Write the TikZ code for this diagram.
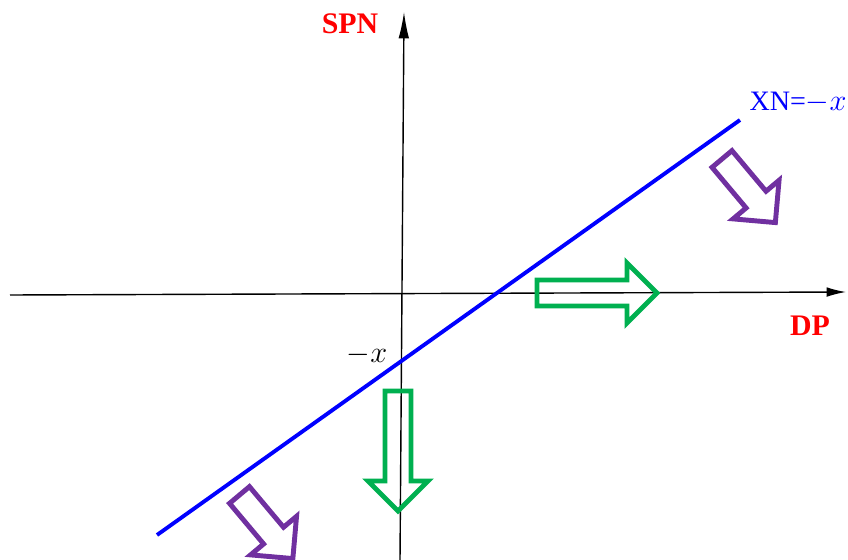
\documentclass[tikz,border=0pt]{standalone}
\usepackage{fontspec}
\setmainfont{Liberation Serif}
\usetikzlibrary{arrows.meta}

\definecolor{arrowgreen}{RGB}{0,176,80}
\definecolor{arrowpurple}{RGB}{112,48,160}

\tikzset{
    axis/.style={line width=0.8pt},
    axislabel/.style={text=red, font=\fontsize{17}{20}\selectfont\bfseries},
    hollow/.style={line width=2.8pt, line join=miter}
}

% colour, x, y, angle, length
\newcommand{\hollowarrow}[5]{%
    \draw[hollow, #1, shift={(#2,#3)}, rotate=#4]
        (0,-13) -- (#5-30,-13) -- (#5-30,-30) -- (#5,0)
        -- (#5-30,30) -- (#5-30,13) -- (0,13) -- cycle;}

\begin{document}
\begin{tikzpicture}[x=0.02cm, y=-0.02cm]
    \useasboundingbox (0,0) rectangle (848,560);

    \coordinate (W) at (10,295);
    \coordinate (E) at (846,292);
    \coordinate (S) at (400,560);
    \coordinate (N) at (404,12);
    \coordinate (P) at (157,535);
    \coordinate (Q) at (740,120);

    \draw[axis, -{Latex[length=11pt,width=5.5pt]}] (W) -- (E);
    \draw[axis, -{Latex[length=15pt,width=6pt]}] (S) -- (N);

    \draw[blue, line width=2.2pt] (P) -- (Q);

    \node[axislabel] (spn) at (350,24) {SPN};
    \node[axislabel] (dp) at (810,326) {DP};
    \node[text=blue, font=\fontsize{16}{19}\selectfont] (xn) at (798,103) {XN=$-x$};
    \node[font=\fontsize{16}{19}\selectfont] (cut) at (367,355) {$-x$};

    \hollowarrow{arrowgreen}{537}{293}{0}{120}
    \hollowarrow{arrowgreen}{398}{391}{-90}{120}
    \hollowarrow{arrowpurple}{722}{159}{-50}{83}
    \hollowarrow{arrowpurple}{239.5}{495}{-50}{83}
\end{tikzpicture}
\end{document}
